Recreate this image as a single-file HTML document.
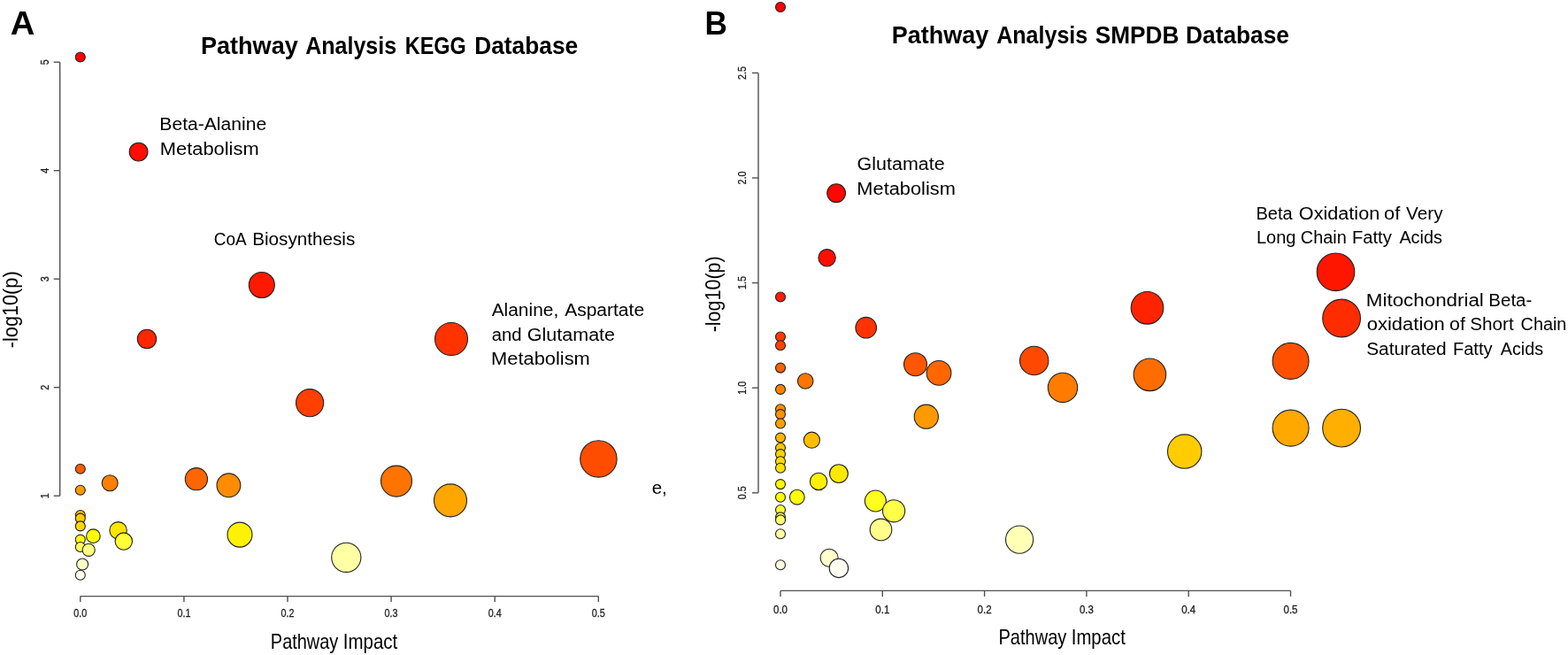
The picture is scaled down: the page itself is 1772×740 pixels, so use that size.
<!DOCTYPE html>
<html lang="en">
<head>
<meta charset="utf-8">
<title>Pathway Analysis</title>
<style>
html,body{margin:0;padding:0;background:#fff;}
body{width:1772px;height:740px;overflow:hidden;}
svg{display:block;font-family:"Liberation Sans",sans-serif;}
</style>
</head>
<body>
<svg width="1772" height="740" viewBox="0 0 1772 740">
<rect width="1772" height="740" fill="#fff"/>
<g stroke="#505050" stroke-width="1.4" fill="none">
<path d="M67.7 70.2V560.2"/>
<path d="M60.7 70.2H67.7"/>
<path d="M60.7 192.7H67.7"/>
<path d="M60.7 315.2H67.7"/>
<path d="M60.7 437.7H67.7"/>
<path d="M60.7 560.2H67.7"/>
<path d="M90.8 673.6H676.3"/>
<path d="M90.8 673.6v6.5"/>
<path d="M207.9 673.6v6.5"/>
<path d="M325.0 673.6v6.5"/>
<path d="M442.1 673.6v6.5"/>
<path d="M559.2 673.6v6.5"/>
<path d="M676.3 673.6v6.5"/>
</g>
<g fill="#222" stroke="#222" stroke-width="0.3">
<text x="54.7" y="70.2" font-size="12" font-weight="normal" text-anchor="middle" fill="#222" textLength="6.0" lengthAdjust="spacingAndGlyphs" transform="rotate(-90 54.7 70.2)">5</text>
<text x="54.7" y="192.7" font-size="12" font-weight="normal" text-anchor="middle" fill="#222" textLength="6.0" lengthAdjust="spacingAndGlyphs" transform="rotate(-90 54.7 192.7)">4</text>
<text x="54.7" y="315.2" font-size="12" font-weight="normal" text-anchor="middle" fill="#222" textLength="6.0" lengthAdjust="spacingAndGlyphs" transform="rotate(-90 54.7 315.2)">3</text>
<text x="54.7" y="437.7" font-size="12" font-weight="normal" text-anchor="middle" fill="#222" textLength="6.0" lengthAdjust="spacingAndGlyphs" transform="rotate(-90 54.7 437.7)">2</text>
<text x="54.7" y="560.2" font-size="12" font-weight="normal" text-anchor="middle" fill="#222" textLength="6.0" lengthAdjust="spacingAndGlyphs" transform="rotate(-90 54.7 560.2)">1</text>
<text x="90.8" y="697.0" font-size="12" font-weight="normal" text-anchor="middle" fill="#222" textLength="15.0" lengthAdjust="spacingAndGlyphs">0.0</text>
<text x="207.9" y="697.0" font-size="12" font-weight="normal" text-anchor="middle" fill="#222" textLength="15.0" lengthAdjust="spacingAndGlyphs">0.1</text>
<text x="325.0" y="697.0" font-size="12" font-weight="normal" text-anchor="middle" fill="#222" textLength="15.0" lengthAdjust="spacingAndGlyphs">0.2</text>
<text x="442.1" y="697.0" font-size="12" font-weight="normal" text-anchor="middle" fill="#222" textLength="15.0" lengthAdjust="spacingAndGlyphs">0.3</text>
<text x="559.2" y="697.0" font-size="12" font-weight="normal" text-anchor="middle" fill="#222" textLength="15.0" lengthAdjust="spacingAndGlyphs">0.4</text>
<text x="676.3" y="697.0" font-size="12" font-weight="normal" text-anchor="middle" fill="#222" textLength="15.0" lengthAdjust="spacingAndGlyphs">0.5</text>
</g>
<g stroke="#505050" stroke-width="1.4" fill="none">
<path d="M857.0 82.4V556.8"/>
<path d="M850.0 82.4H857.0"/>
<path d="M850.0 201.0H857.0"/>
<path d="M850.0 319.6H857.0"/>
<path d="M850.0 438.2H857.0"/>
<path d="M850.0 556.8H857.0"/>
<path d="M882.0 667.4H1458.5"/>
<path d="M882.0 667.4v6.5"/>
<path d="M997.3 667.4v6.5"/>
<path d="M1112.6 667.4v6.5"/>
<path d="M1227.9 667.4v6.5"/>
<path d="M1343.2 667.4v6.5"/>
<path d="M1458.5 667.4v6.5"/>
</g>
<g fill="#222" stroke="#222" stroke-width="0.3">
<text x="843.0" y="82.4" font-size="12" font-weight="normal" text-anchor="middle" fill="#222" textLength="15.0" lengthAdjust="spacingAndGlyphs" transform="rotate(-90 843.0 82.4)">2.5</text>
<text x="843.0" y="201.0" font-size="12" font-weight="normal" text-anchor="middle" fill="#222" textLength="15.0" lengthAdjust="spacingAndGlyphs" transform="rotate(-90 843.0 201.0)">2.0</text>
<text x="843.0" y="319.6" font-size="12" font-weight="normal" text-anchor="middle" fill="#222" textLength="15.0" lengthAdjust="spacingAndGlyphs" transform="rotate(-90 843.0 319.6)">1.5</text>
<text x="843.0" y="438.2" font-size="12" font-weight="normal" text-anchor="middle" fill="#222" textLength="15.0" lengthAdjust="spacingAndGlyphs" transform="rotate(-90 843.0 438.2)">1.0</text>
<text x="843.0" y="556.8" font-size="12" font-weight="normal" text-anchor="middle" fill="#222" textLength="15.0" lengthAdjust="spacingAndGlyphs" transform="rotate(-90 843.0 556.8)">0.5</text>
<text x="882.0" y="692.5" font-size="12" font-weight="normal" text-anchor="middle" fill="#222" textLength="16.0" lengthAdjust="spacingAndGlyphs">0.0</text>
<text x="997.3" y="692.5" font-size="12" font-weight="normal" text-anchor="middle" fill="#222" textLength="16.0" lengthAdjust="spacingAndGlyphs">0.1</text>
<text x="1112.6" y="692.5" font-size="12" font-weight="normal" text-anchor="middle" fill="#222" textLength="16.0" lengthAdjust="spacingAndGlyphs">0.2</text>
<text x="1227.9" y="692.5" font-size="12" font-weight="normal" text-anchor="middle" fill="#222" textLength="16.0" lengthAdjust="spacingAndGlyphs">0.3</text>
<text x="1343.2" y="692.5" font-size="12" font-weight="normal" text-anchor="middle" fill="#222" textLength="16.0" lengthAdjust="spacingAndGlyphs">0.4</text>
<text x="1458.5" y="692.5" font-size="12" font-weight="normal" text-anchor="middle" fill="#222" textLength="16.0" lengthAdjust="spacingAndGlyphs">0.5</text>
</g>
<g stroke="#222" stroke-width="1.1">
<circle cx="90.8" cy="64.5" r="5.5" fill="#FF0000"/>
<circle cx="156.6" cy="171.6" r="10.4" fill="#FF0D00"/>
<circle cx="295.8" cy="322.0" r="14.5" fill="#FF1900"/>
<circle cx="166.0" cy="383.0" r="10.7" fill="#FF2600"/>
<circle cx="510.0" cy="383.0" r="18.5" fill="#FF3300"/>
<circle cx="350.1" cy="455.2" r="15.6" fill="#FF4000"/>
<circle cx="676.4" cy="518.4" r="20.7" fill="#FF4D00"/>
<circle cx="90.8" cy="529.8" r="5.5" fill="#FF5900"/>
<circle cx="221.9" cy="541.2" r="12.6" fill="#FF6600"/>
<circle cx="448.0" cy="543.6" r="17.5" fill="#FF7300"/>
<circle cx="124.2" cy="545.7" r="9.0" fill="#FF8000"/>
<circle cx="258.4" cy="548.3" r="13.4" fill="#FF8C00"/>
<circle cx="90.8" cy="553.8" r="5.5" fill="#FF9900"/>
<circle cx="509.0" cy="565.4" r="18.5" fill="#FFA600"/>
<circle cx="90.8" cy="582.0" r="5.5" fill="#FFB200"/>
<circle cx="90.8" cy="585.6" r="5.5" fill="#FFCC00"/>
<circle cx="90.8" cy="594.4" r="5.5" fill="#FFD900"/>
<circle cx="133.6" cy="599.3" r="9.7" fill="#FFE500"/>
<circle cx="271.0" cy="604.1" r="14.0" fill="#FFF200"/>
<circle cx="105.4" cy="605.7" r="7.8" fill="#FFFF00"/>
<circle cx="90.8" cy="609.6" r="5.5" fill="#FFFF12"/>
<circle cx="139.8" cy="611.6" r="9.7" fill="#FFFF37"/>
<circle cx="90.8" cy="618.0" r="5.5" fill="#FFFF5B"/>
<circle cx="100.2" cy="621.3" r="7.1" fill="#FFFF80"/>
<circle cx="391.3" cy="629.8" r="16.6" fill="#FFFFA4"/>
<circle cx="93.1" cy="637.5" r="6.5" fill="#FFFFC8"/>
<circle cx="90.8" cy="649.8" r="5.5" fill="#FFFFED"/>
<circle cx="882.0" cy="8.0" r="5.5" fill="#FF0000"/>
<circle cx="945.1" cy="218.2" r="10.4" fill="#FF0700"/>
<circle cx="934.6" cy="291.3" r="9.7" fill="#FF0F00"/>
<circle cx="1509.5" cy="307.3" r="21.3" fill="#FF1600"/>
<circle cx="882.0" cy="335.5" r="5.5" fill="#FF1D00"/>
<circle cx="1296.5" cy="347.8" r="18.3" fill="#FF2400"/>
<circle cx="1516.1" cy="359.5" r="21.4" fill="#FF2C00"/>
<circle cx="978.7" cy="370.2" r="11.8" fill="#FF3300"/>
<circle cx="882.0" cy="380.5" r="5.5" fill="#FF3A00"/>
<circle cx="882.0" cy="390.3" r="5.5" fill="#FF4200"/>
<circle cx="1168.7" cy="407.5" r="16.2" fill="#FF4900"/>
<circle cx="1458.6" cy="407.9" r="20.5" fill="#FF5000"/>
<circle cx="1034.5" cy="411.7" r="13.0" fill="#FF5700"/>
<circle cx="882.0" cy="415.6" r="5.5" fill="#FF5F00"/>
<circle cx="1061.0" cy="421.4" r="13.9" fill="#FF6600"/>
<circle cx="1299.4" cy="423.3" r="18.3" fill="#FF6D00"/>
<circle cx="910.2" cy="430.5" r="8.8" fill="#FF7500"/>
<circle cx="1201.0" cy="437.9" r="16.7" fill="#FF7C00"/>
<circle cx="882.0" cy="439.9" r="5.5" fill="#FF8300"/>
<circle cx="882.0" cy="462.3" r="5.5" fill="#FF8A00"/>
<circle cx="882.0" cy="468.1" r="5.5" fill="#FF9200"/>
<circle cx="1046.8" cy="470.7" r="13.6" fill="#FF9900"/>
<circle cx="882.0" cy="478.5" r="5.5" fill="#FFA000"/>
<circle cx="1458.6" cy="483.6" r="20.5" fill="#FFA800"/>
<circle cx="1516.1" cy="483.6" r="21.4" fill="#FFAF00"/>
<circle cx="882.0" cy="494.6" r="5.5" fill="#FFB600"/>
<circle cx="917.4" cy="497.2" r="9.1" fill="#FFBD00"/>
<circle cx="882.0" cy="506.0" r="5.5" fill="#FFC500"/>
<circle cx="1338.7" cy="510.1" r="19.2" fill="#FFCC00"/>
<circle cx="882.0" cy="513.1" r="5.5" fill="#FFD300"/>
<circle cx="882.0" cy="521.2" r="5.5" fill="#FFDB00"/>
<circle cx="882.0" cy="528.7" r="5.5" fill="#FFE200"/>
<circle cx="947.9" cy="535.1" r="10.4" fill="#FFE900"/>
<circle cx="925.1" cy="543.9" r="9.7" fill="#FFF000"/>
<circle cx="882.0" cy="547.1" r="5.5" fill="#FFF800"/>
<circle cx="882.0" cy="561.7" r="5.5" fill="#FFFF00"/>
<circle cx="900.8" cy="561.7" r="8.4" fill="#FFFF0B"/>
<circle cx="989.4" cy="566.0" r="12.0" fill="#FFFF20"/>
<circle cx="882.0" cy="576.0" r="5.5" fill="#FFFF35"/>
<circle cx="1010.1" cy="577.3" r="12.6" fill="#FFFF4A"/>
<circle cx="882.0" cy="584.4" r="5.5" fill="#FFFF60"/>
<circle cx="882.0" cy="587.4" r="5.5" fill="#FFFF75"/>
<circle cx="995.5" cy="598.4" r="12.3" fill="#FFFF8A"/>
<circle cx="882.0" cy="603.3" r="5.5" fill="#FFFF9F"/>
<circle cx="1152.1" cy="609.6" r="15.6" fill="#FFFFB5"/>
<circle cx="937.1" cy="630.2" r="10.0" fill="#FFFFCA"/>
<circle cx="882.0" cy="638.3" r="5.5" fill="#FFFFDF"/>
<circle cx="947.9" cy="641.9" r="10.7" fill="#FFFFF4"/>
</g>
<text y="39.3" font-size="36.0" font-weight="bold"><tspan x="11.89" textLength="27.60" lengthAdjust="spacingAndGlyphs">A</tspan></text>
<text y="39.3" font-size="36.0" font-weight="bold"><tspan x="796.39" textLength="25.38" lengthAdjust="spacingAndGlyphs">B</tspan></text>
<text y="61.2" font-size="28.0" font-weight="bold"><tspan x="226.97" textLength="109.76" lengthAdjust="spacingAndGlyphs">Pathway</tspan> <tspan x="345.14" textLength="103.08" lengthAdjust="spacingAndGlyphs">Analysis</tspan> <tspan x="457.82" textLength="68.97" lengthAdjust="spacingAndGlyphs">KEGG</tspan> <tspan x="536.24" textLength="116.90" lengthAdjust="spacingAndGlyphs">Database</tspan></text>
<text y="49.0" font-size="28.0" font-weight="bold"><tspan x="1007.85" textLength="109.45" lengthAdjust="spacingAndGlyphs">Pathway</tspan> <tspan x="1126.14" textLength="103.16" lengthAdjust="spacingAndGlyphs">Analysis</tspan> <tspan x="1237.76" textLength="94.64" lengthAdjust="spacingAndGlyphs">SMPDB</tspan> <tspan x="1340.06" textLength="116.84" lengthAdjust="spacingAndGlyphs">Database</tspan></text>
<text y="147.2" font-size="20" font-weight="normal"><tspan x="180.38" textLength="120.82" lengthAdjust="spacingAndGlyphs">Beta-Alanine</tspan></text>
<text y="175.3" font-size="20" font-weight="normal"><tspan x="180.86" textLength="111.75" lengthAdjust="spacingAndGlyphs">Metabolism</tspan></text>
<text y="276.7" font-size="20" font-weight="normal"><tspan x="241.85" textLength="35.78" lengthAdjust="spacingAndGlyphs">CoA</tspan> <tspan x="285.16" textLength="116.07" lengthAdjust="spacingAndGlyphs">Biosynthesis</tspan></text>
<text y="357.0" font-size="20" font-weight="normal"><tspan x="555.66" textLength="75.56" lengthAdjust="spacingAndGlyphs">Alanine,</tspan> <tspan x="638.16" textLength="89.92" lengthAdjust="spacingAndGlyphs">Aspartate</tspan></text>
<text y="384.6" font-size="20" font-weight="normal"><tspan x="555.78" textLength="33.83" lengthAdjust="spacingAndGlyphs">and</tspan> <tspan x="595.86" textLength="99.16" lengthAdjust="spacingAndGlyphs">Glutamate</tspan></text>
<text y="412.2" font-size="20" font-weight="normal"><tspan x="555.08" textLength="111.67" lengthAdjust="spacingAndGlyphs">Metabolism</tspan></text>
<text y="558.1" font-size="20" font-weight="normal"><tspan x="736.70" textLength="17.15" lengthAdjust="spacingAndGlyphs">e,</tspan></text>
<text y="192.3" font-size="20" font-weight="normal"><tspan x="968.61" textLength="98.97" lengthAdjust="spacingAndGlyphs">Glutamate</tspan></text>
<text y="219.9" font-size="20" font-weight="normal"><tspan x="968.38" textLength="111.46" lengthAdjust="spacingAndGlyphs">Metabolism</tspan></text>
<text y="248.0" font-size="20" font-weight="normal"><tspan x="1419.42" textLength="41.27" lengthAdjust="spacingAndGlyphs">Beta</tspan> <tspan x="1467.89" textLength="91.32" lengthAdjust="spacingAndGlyphs">Oxidation</tspan> <tspan x="1564.08" textLength="18.13" lengthAdjust="spacingAndGlyphs">of</tspan> <tspan x="1589.13" textLength="41.35" lengthAdjust="spacingAndGlyphs">Very</tspan></text>
<text y="275.3" font-size="20" font-weight="normal"><tspan x="1419.89" textLength="44.63" lengthAdjust="spacingAndGlyphs">Long</tspan> <tspan x="1469.83" textLength="51.95" lengthAdjust="spacingAndGlyphs">Chain</tspan> <tspan x="1527.95" textLength="44.83" lengthAdjust="spacingAndGlyphs">Fatty</tspan> <tspan x="1581.39" textLength="48.43" lengthAdjust="spacingAndGlyphs">Acids</tspan></text>
<text y="345.7" font-size="20" font-weight="normal"><tspan x="1543.82" textLength="133.03" lengthAdjust="spacingAndGlyphs">Mitochondrial</tspan> <tspan x="1682.39" textLength="48.89" lengthAdjust="spacingAndGlyphs">Beta-</tspan></text>
<text y="373.2" font-size="20" font-weight="normal"><tspan x="1544.82" textLength="87.86" lengthAdjust="spacingAndGlyphs">oxidation</tspan> <tspan x="1638.14" textLength="17.76" lengthAdjust="spacingAndGlyphs">of</tspan> <tspan x="1661.33" textLength="49.42" lengthAdjust="spacingAndGlyphs">Short</tspan> <tspan x="1718.59" textLength="51.74" lengthAdjust="spacingAndGlyphs">Chain</tspan></text>
<text y="401.0" font-size="20" font-weight="normal"><tspan x="1544.22" textLength="90.40" lengthAdjust="spacingAndGlyphs">Saturated</tspan> <tspan x="1641.91" textLength="44.64" lengthAdjust="spacingAndGlyphs">Fatty</tspan> <tspan x="1695.76" textLength="48.24" lengthAdjust="spacingAndGlyphs">Acids</tspan></text>
<text y="733.0" font-size="23.2" font-weight="normal"><tspan x="305.83" textLength="76.52" lengthAdjust="spacingAndGlyphs">Pathway</tspan> <tspan x="387.82" textLength="61.39" lengthAdjust="spacingAndGlyphs">Impact</tspan></text>
<text y="728.3" font-size="23.2" font-weight="normal"><tspan x="1128.45" textLength="76.95" lengthAdjust="spacingAndGlyphs">Pathway</tspan> <tspan x="1210.79" textLength="61.00" lengthAdjust="spacingAndGlyphs">Impact</tspan></text>
<text transform="translate(19.8 0) rotate(-90)" font-size="23.2" font-weight="normal"><tspan x="-393.21" textLength="86.81" lengthAdjust="spacingAndGlyphs">-log10(p)</tspan></text>
<text transform="translate(814.1 0) rotate(-90)" font-size="23.2" font-weight="normal"><tspan x="-375.33" textLength="86.01" lengthAdjust="spacingAndGlyphs">-log10(p)</tspan></text>
</svg>
</body>
</html>
